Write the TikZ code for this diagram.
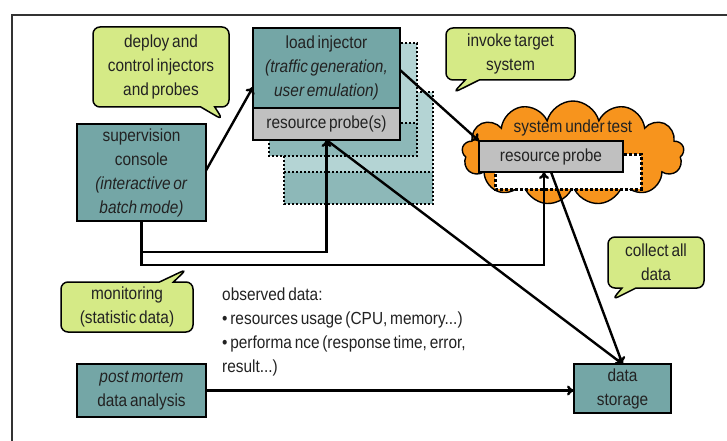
\documentclass[tikz,border=0pt]{standalone}
\usepackage{fontspec}
\setmainfont[FakeStretch=0.88,WordSpace=0.65]{Liberation Sans}
\usetikzlibrary{positioning,shapes.symbols,shapes.callouts,arrows.meta}
\definecolor{boxteal}{HTML}{74A6A6}
\definecolor{probegrey}{HTML}{C0C0C0}
\definecolor{bubblegreen}{HTML}{D5EA86}
\definecolor{cloudorange}{HTML}{F7941D}
\definecolor{ghostlight}{HTML}{B4D4D4}
\definecolor{ghostdark}{HTML}{8DB8B8}
\definecolor{framegrey}{HTML}{333333}
\definecolor{textgrey}{HTML}{222222}

\begin{document}
\begin{tikzpicture}[x=1pt,y=-1pt,
    font=\fontsize{17.5}{24}\selectfont,text=textgrey,
    box/.style={draw,line width=1.8pt,fill=boxteal,align=center,inner sep=0pt,outer sep=0pt},
    probebox/.style={draw,line width=1.8pt,fill=probegrey,inner sep=0pt,outer sep=0pt},
    ghost/.style={line width=2.4pt,dash pattern=on 2.4pt off 1.6pt},
    bubble/.style={rectangle callout,draw,line width=1.5pt,fill=bubblegreen,rounded corners=7pt,align=center,inner sep=0pt,callout pointer width=14pt},
    flow/.style={line width=2.4pt,-{To[length=7pt,width=10pt]}}]
    \useasboundingbox[fill=white] (0,0) rectangle (727,441);
    \draw[line width=1.8pt,framegrey] (12,441) -- (12,15) -- (727,15);

    % copies of the injector behind it
    \fill[ghostlight] (284,92) rectangle (433,172);
    \fill[ghostdark] (284,172) rectangle (433,204);
    \draw[ghost] (284,92) rectangle (433,204);
    \draw[ghost] (284,172) -- (433,172);
    \fill[ghostlight] (269,43) rectangle (417,123);
    \fill[ghostdark] (269,123) rectangle (417,156);
    \draw[ghost] (269,43) rectangle (417,156);
    \draw[ghost] (269,123) -- (417,123);

    \node[box,minimum width=147pt,minimum height=80pt] (inj) at (326.5,68) {load injector\\\textit{(traffic generation,}\\\textit{user emulation)}};
    \node[probebox,minimum width=147pt,minimum height=32pt,below=0pt of inj] (probe) {resource probe(s)};

    \node[box,minimum width=129pt,minimum height=97pt] (console) at (141.5,172.5) {supervision\\console\\\textit{(interactive or}\\\textit{batch mode)}};
    \node[box,minimum width=129pt,minimum height=53pt] (pm) at (141.5,390.5) {\textit{post mortem}\\data analysis};
    \node[box,minimum width=97pt,minimum height=49pt] (store) at (622.5,388.5) {data\\storage};

    % system under test
    \node[cloud,cloud puffs=13,aspect=2.3,draw,line width=1.4pt,fill=cloudorange,minimum width=222pt,minimum height=104pt,inner sep=0pt] (sut) at (573,153) {};
    \node (sutlabel) at (573,128) {system under test};
    \draw[line width=3pt,dash pattern=on 3pt off 2pt,fill=white] (495,154) rectangle (641,189);
    \node[probebox,minimum width=144pt,minimum height=31pt] (cprobe) at (551,156.5) {resource probe};

    \node[bubble,minimum width=136pt,minimum height=80pt,callout absolute pointer={(223,120)}] (deploy) at (161,67) {deploy and\\control injectors\\and probes};
    \node[bubble,minimum width=129pt,minimum height=52pt,callout absolute pointer={(453,93)}] (invoke) at (510.5,54) {invoke target\\system};
    \node[bubble,minimum width=96pt,minimum height=51pt,callout absolute pointer={(612,300)}] (collect) at (656,262.5) {collect all\\data};
    \node[bubble,minimum width=132pt,minimum height=50pt,callout absolute pointer={(187,269)}] (monitor) at (127,307) {monitoring\\(statistic data)};

    \node[anchor=north west,align=left,inner sep=0pt] (observed) at (222,288) {observed data:\\• resources usage (CPU, memory...)\\• performa nce (response time, error,\\result...)};

    \coordinate (busA) at (0,252);
    \coordinate (busB) at (0,265);
    \coordinate (tapB) at ([xshift=-7pt]cprobe.south);
    \draw[flow] ([yshift=2pt]console.east) -- ([yshift=-19pt]inj.west);
    \draw[flow] ([yshift=-2pt]inj.east) -- (cprobe.north west);
    \draw[flow] (console.south |- busA) -| (probe.south);
    \draw[flow] (console.south) |- (tapB |- busB) -- (tapB);
    \draw[flow] (probe.south) -- (store.north);
    \draw[flow] (cprobe.south) -- (store.north);
    \draw[flow] (pm.east) -- (pm.east -| store.west);
\end{tikzpicture}
\end{document}
